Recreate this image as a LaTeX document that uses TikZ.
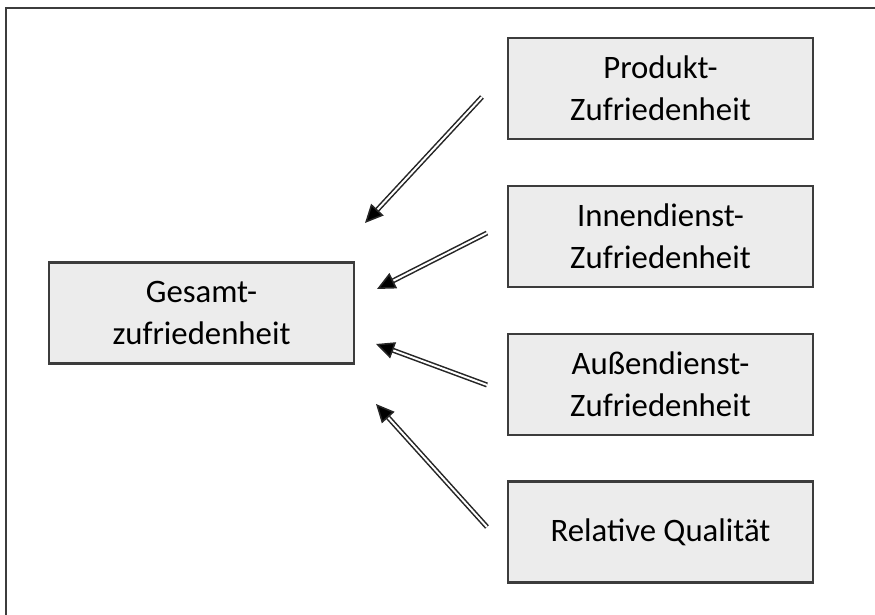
\documentclass[tikz,border=0pt]{standalone}
\usepackage{fontspec}
\setmainfont{Carlito}
\usetikzlibrary{arrows.meta}
\definecolor{boxfill}{HTML}{ECECEC}
\definecolor{boxline}{HTML}{3C3C3C}
\tikzset{
  box/.style={draw=boxline, line width=1.6pt, fill=boxfill, minimum width=305\pgfxx, minimum height=101\pgfxx,
    align=center, font=\fontsize{23.3}{30}\selectfont, inner sep=0pt},
  arr/.style={draw=black!85, double=white, double distance=1.4pt, line width=1.1pt, -{Triangle[length=13pt,width=12pt,fill=black]}}
}
\newlength{\pgfxx}
\setlength{\pgfxx}{0.025cm}
\begin{document}
\begin{tikzpicture}[x=0.025cm,y=-0.025cm]
    \useasboundingbox (0,0) rectangle (875,615);
    \draw[boxline, line width=1.4pt] (6,615) -- (6,8) -- (875,8);
    \node[box] (gesamt) at (201.5,313) {Gesamt-\\zufriedenheit};
    \node[box] (produkt) at (660.5,88.5) {Produkt-\\Zufriedenheit};
    \node[box] (innen) at (660.5,236.5) {Innendienst-\\Zufriedenheit};
    \node[box] (aussen) at (660.5,384.5) {Außendienst-\\Zufriedenheit};
    \node[box] (qual) at (660.5,532) {Relative Qualität};
    \coordinate (p1) at (482,97);
    \coordinate (g1) at (365,223);
    \coordinate (p2) at (487,233);
    \coordinate (g2) at (377,289);
    \coordinate (p3) at (487,385);
    \coordinate (g3) at (376,344);
    \coordinate (p4) at (487,527);
    \coordinate (g4) at (376,404);
    \draw[arr] (p1) -- (g1);
    \draw[arr] (p2) -- (g2);
    \draw[arr] (p3) -- (g3);
    \draw[arr] (p4) -- (g4);
\end{tikzpicture}
\end{document}
